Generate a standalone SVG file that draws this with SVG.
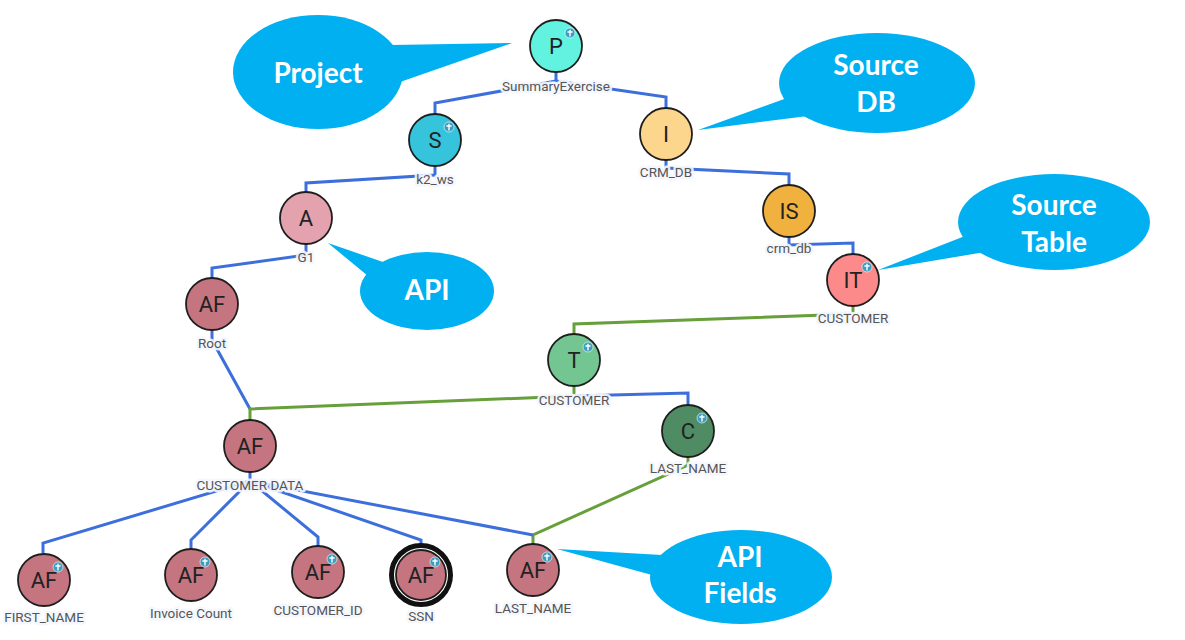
<svg xmlns="http://www.w3.org/2000/svg" width="1185" height="640" viewBox="0 0 1185 640">
<defs>
<style>
.bg{fill:#ffffff}
.blue{fill:none;stroke:#3d6fdc;stroke-width:3;stroke-linejoin:miter}
.green{fill:none;stroke:#67a03a;stroke-width:3;stroke-linejoin:miter}
.node{stroke:#1e1e1e;stroke-width:1.8}
.ltr{font-family:Roboto,"Noto Sans",sans-serif;font-size:22px;fill:#222;text-anchor:middle}
.lbl{font-family:Roboto,"Noto Sans",sans-serif;font-size:13.5px;fill:#555;text-anchor:middle;stroke:#f4f7fd;stroke-width:5;stroke-opacity:0.92;paint-order:stroke;stroke-linejoin:round}
.call{fill:#00b0f0}
.ctxt{font-family:Lato,"Open Sans",sans-serif;font-weight:bold;font-size:28px;fill:#ffffff;text-anchor:middle}
.ic{fill:#3b9dc0;stroke:#ffffff;stroke-width:0.6}
.icx{stroke:#ffffff;stroke-width:1.4;fill:none}
</style>
<g id="plus">
<circle class="ic" r="5"/>
<path class="icx" d="M0,-3.2 V3.6 M-2.6,-1 H2.6"/>
</g>
</defs>
<rect class="bg" width="1185" height="640"/>

<g id="connectors">
<path class="blue" d="M556,72 V81 L435,103 V114"/>
<path class="blue" d="M556,81 L666,97 V108"/>
<path class="blue" d="M435,166 V175 L306,183 V192"/>
<path class="blue" d="M666,160 V168 L789,174 V185"/>
<path class="blue" d="M789,237 V245 L853,243 V254"/>
<path class="blue" d="M306,244 V255 L212,268 V278"/>
<path class="blue" d="M212,330 V340 L250,409"/>
<path class="green" d="M853,306 V314 L574,324 V334"/>
<path class="green" d="M574,386 V396 L250,409 V420"/>
<path class="blue" d="M574,396 L688,393 V405"/>
<path class="green" d="M688,457 V465 L533,535 V544"/>
<path class="blue" d="M250,472 V481 L43,543 V553"/>
<path class="blue" d="M250,481 L191,540 V549"/>
<path class="blue" d="M250,481 L318,537 V546"/>
<path class="blue" d="M250,481 L421,540 V546"/>
<path class="blue" d="M250,481 L533,535"/>
</g>

<g id="node-P">
<circle class="node" cx="556" cy="46" r="26" fill="#62f2e0"/>
<text class="ltr" x="556" y="54">P</text>
<use href="#plus" x="570" y="33"/>
<text class="lbl" x="556" y="91">SummaryExercise</text>
</g>
<g id="node-S">
<circle class="node" cx="435" cy="140" r="26" fill="#36c3dc"/>
<text class="ltr" x="435" y="148">S</text>
<use href="#plus" x="449" y="127"/>
<text class="lbl" x="435" y="184">k2_ws</text>
</g>
<g id="node-I">
<circle class="node" cx="666" cy="134" r="26" fill="#fbd68c"/>
<text class="ltr" x="666" y="142">I</text>
<text class="lbl" x="666" y="177">CRM_DB</text>
</g>
<g id="node-IS">
<circle class="node" cx="789" cy="211" r="26" fill="#f0b13f"/>
<text class="ltr" x="789" y="219">IS</text>
<text class="lbl" x="789" y="253">crm_db</text>
</g>
<g id="node-IT">
<circle class="node" cx="853" cy="280" r="26" fill="#fd8a8a"/>
<text class="ltr" x="853" y="288">IT</text>
<use href="#plus" x="867" y="267"/>
<text class="lbl" x="853" y="323">CUSTOMER</text>
</g>
<g id="node-A">
<circle class="node" cx="306" cy="218" r="26" fill="#e3a2ae"/>
<text class="ltr" x="306" y="226">A</text>
<text class="lbl" x="306" y="262">G1</text>
</g>
<g id="node-AF-root">
<circle class="node" cx="212" cy="304" r="26" fill="#c57580"/>
<text class="ltr" x="212" y="312">AF</text>
<text class="lbl" x="212" y="348">Root</text>
</g>
<g id="node-T">
<circle class="node" cx="574" cy="360" r="26" fill="#73c591"/>
<text class="ltr" x="574" y="368">T</text>
<use href="#plus" x="588" y="347"/>
<text class="lbl" x="574" y="405">CUSTOMER</text>
</g>
<g id="node-AF-customer-data">
<circle class="node" cx="250" cy="446" r="26" fill="#c57580"/>
<text class="ltr" x="250" y="454">AF</text>
<text class="lbl" x="250" y="490">CUSTOMER DATA</text>
</g>
<g id="node-C">
<circle class="node" cx="688" cy="431" r="26" fill="#4f8c63"/>
<text class="ltr" x="688" y="439">C</text>
<use href="#plus" x="702" y="418"/>
<text class="lbl" x="688" y="473">LAST_NAME</text>
</g>
<g id="node-AF-first-name">
<circle class="node" cx="44" cy="580" r="26" fill="#c57580"/>
<text class="ltr" x="44" y="588">AF</text>
<use href="#plus" x="58" y="567"/>
<text class="lbl" x="44" y="622">FIRST_NAME</text>
</g>
<g id="node-AF-invoice-count">
<circle class="node" cx="191" cy="575" r="26" fill="#c57580"/>
<text class="ltr" x="191" y="583">AF</text>
<use href="#plus" x="205" y="562"/>
<text class="lbl" x="191" y="618">Invoice Count</text>
</g>
<g id="node-AF-customer-id">
<circle class="node" cx="318" cy="572" r="26" fill="#c57580"/>
<text class="ltr" x="318" y="580">AF</text>
<use href="#plus" x="332" y="559"/>
<text class="lbl" x="318" y="615">CUSTOMER_ID</text>
</g>
<g id="node-AF-ssn">
<circle cx="421" cy="575" r="29.5" fill="#ffffff" stroke="#111" stroke-width="5"/>
<circle class="node" cx="421" cy="575" r="25" fill="#c57580"/>
<text class="ltr" x="421" y="583">AF</text>
<use href="#plus" x="435" y="562"/>
<text class="lbl" x="421" y="621">SSN</text>
</g>
<g id="node-AF-last-name">
<circle class="node" cx="533" cy="570" r="26" fill="#c57580"/>
<text class="ltr" x="533" y="578">AF</text>
<use href="#plus" x="547" y="557"/>
<text class="lbl" x="533" y="613">LAST_NAME</text>
</g>

<g id="callout-project">
<ellipse class="call" cx="318" cy="72" rx="85" ry="57"/>
<polygon class="call" points="392,45 512,43 400,82"/>
<text class="ctxt" x="318" y="83">Project</text>
</g>
<g id="callout-source-db">
<ellipse class="call" cx="877" cy="83" rx="98" ry="50"/>
<polygon class="call" points="787,98 698,130 808,116"/>
<text class="ctxt" x="876" y="75">Source</text>
<text class="ctxt" x="876" y="112">DB</text>
</g>
<g id="callout-api">
<ellipse class="call" cx="427" cy="291" rx="67" ry="39"/>
<polygon class="call" points="383,262 328,243 368,276"/>
<text class="ctxt" x="427" y="300">API</text>
</g>
<g id="callout-source-table">
<ellipse class="call" cx="1054" cy="222" rx="96" ry="48"/>
<polygon class="call" points="965,236 878,270 985,252"/>
<text class="ctxt" x="1054" y="215">Source</text>
<text class="ctxt" x="1054" y="252">Table</text>
</g>
<g id="callout-api-fields">
<ellipse class="call" cx="741" cy="577" rx="91" ry="47"/>
<polygon class="call" points="662,555 557,549 652,575"/>
<text class="ctxt" x="740" y="567">API</text>
<text class="ctxt" x="740" y="603">Fields</text>
</g>
</svg>
